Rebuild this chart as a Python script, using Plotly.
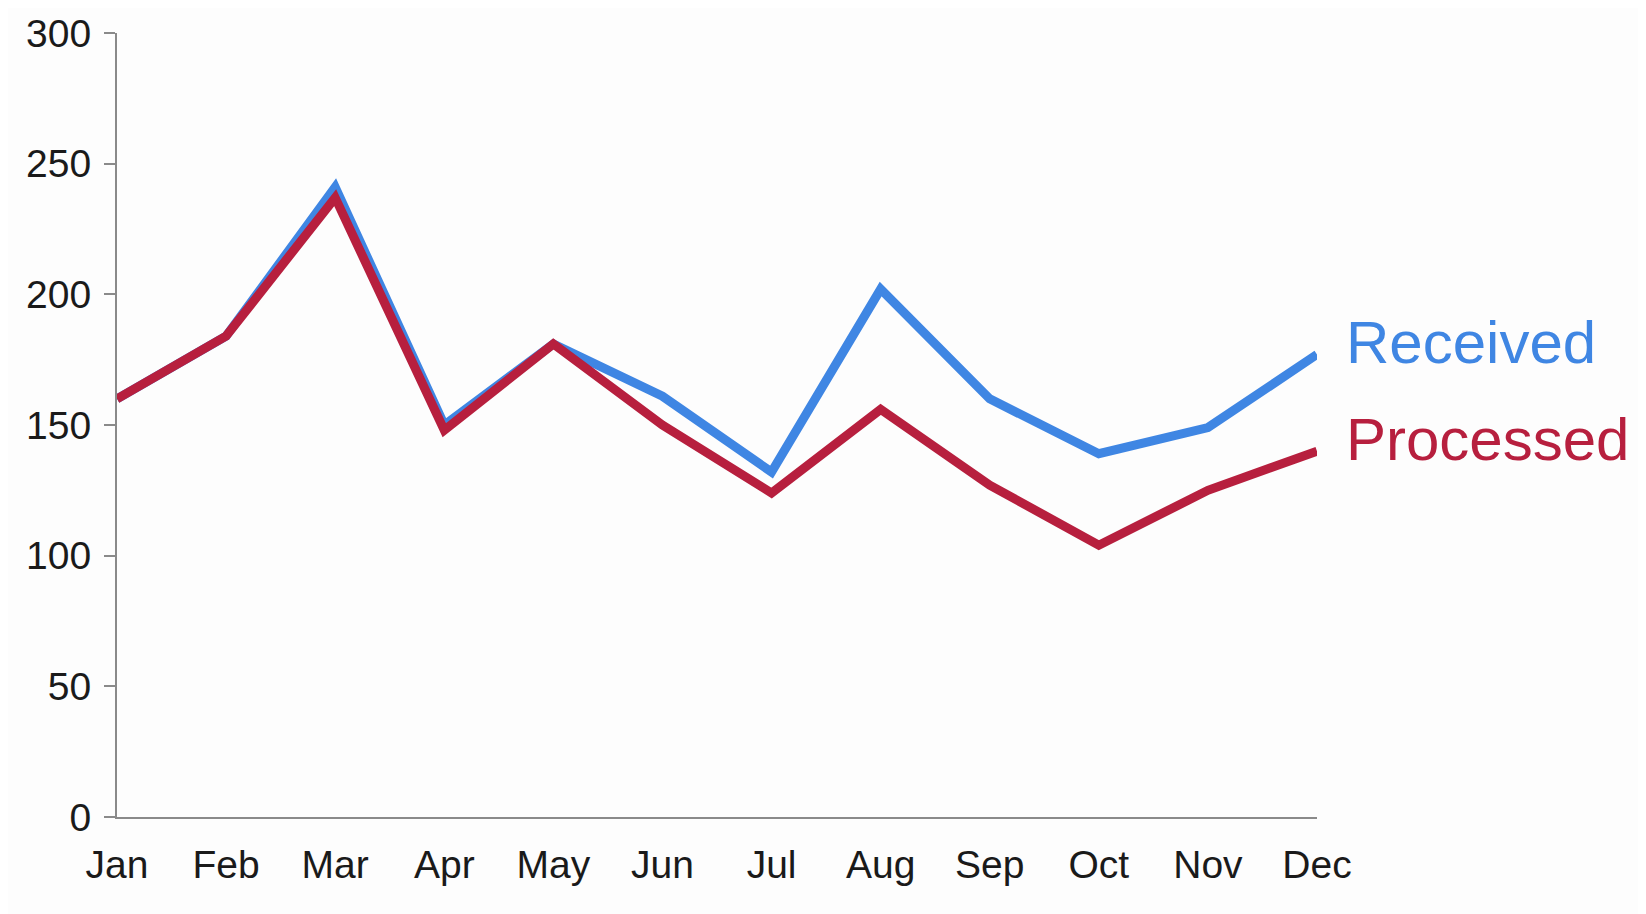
import plotly.graph_objects as go

months = ["Jan", "Feb", "Mar", "Apr", "May", "Jun", "Jul", "Aug", "Sep", "Oct", "Nov", "Dec"]
received = [160, 184, 241, 150, 181, 161, 132, 202, 160, 139, 149, 177]
processed = [160, 184, 237, 148, 181, 150, 124, 156, 127, 104, 125, 140]
y_ticks = [0, 50, 100, 150, 200, 250, 300]

BLUE = "#3F86E3"
RED = "#B71F3E"
FONT = "Liberation Sans, Arial, Helvetica, sans-serif"

fig = go.Figure()
fig.add_trace(go.Scatter(x=months, y=received, mode="lines", name="Received",
                         line=dict(color=BLUE, width=9), cliponaxis=False))
fig.add_trace(go.Scatter(x=months, y=processed, mode="lines", name="Processed",
                         line=dict(color=RED, width=9), cliponaxis=False))

fig.add_annotation(x=months[-1], y=received[-1], text="Received", showarrow=False,
                   xanchor="left", yanchor="middle", xshift=27, yshift=12,
                   font=dict(family=FONT, size=60, color=BLUE))
fig.add_annotation(x=months[-1], y=processed[-1], text="Processed", showarrow=False,
                   xanchor="left", yanchor="middle", xshift=27, yshift=12,
                   font=dict(family=FONT, size=60, color=RED))

fig.update_layout(
    width=1638, height=906,
    margin=dict(l=109, r=329, t=25, b=97, autoexpand=False),
    paper_bgcolor="#FDFDFD", plot_bgcolor="#FDFDFD",
    showlegend=False,
    font=dict(family=FONT, size=39, color="#1A1A1A"),
)
fig.update_xaxes(
    type="category", range=[0, 11], showgrid=False, zeroline=False,
    showline=True, linecolor="#8A8A8A", linewidth=2, automargin=False,
    ticks="", tickfont=dict(size=39), ticklabelstandoff=12,
)
fig.update_yaxes(
    range=[0, 300], tickvals=y_ticks, showgrid=False, zeroline=False,
    showline=True, linecolor="#8A8A8A", linewidth=2, automargin=False,
    ticks="outside", ticklen=11, tickcolor="#8A8A8A", tickwidth=2,
    tickfont=dict(size=39), ticklabelstandoff=5,
)

fig.write_html("out.html")
